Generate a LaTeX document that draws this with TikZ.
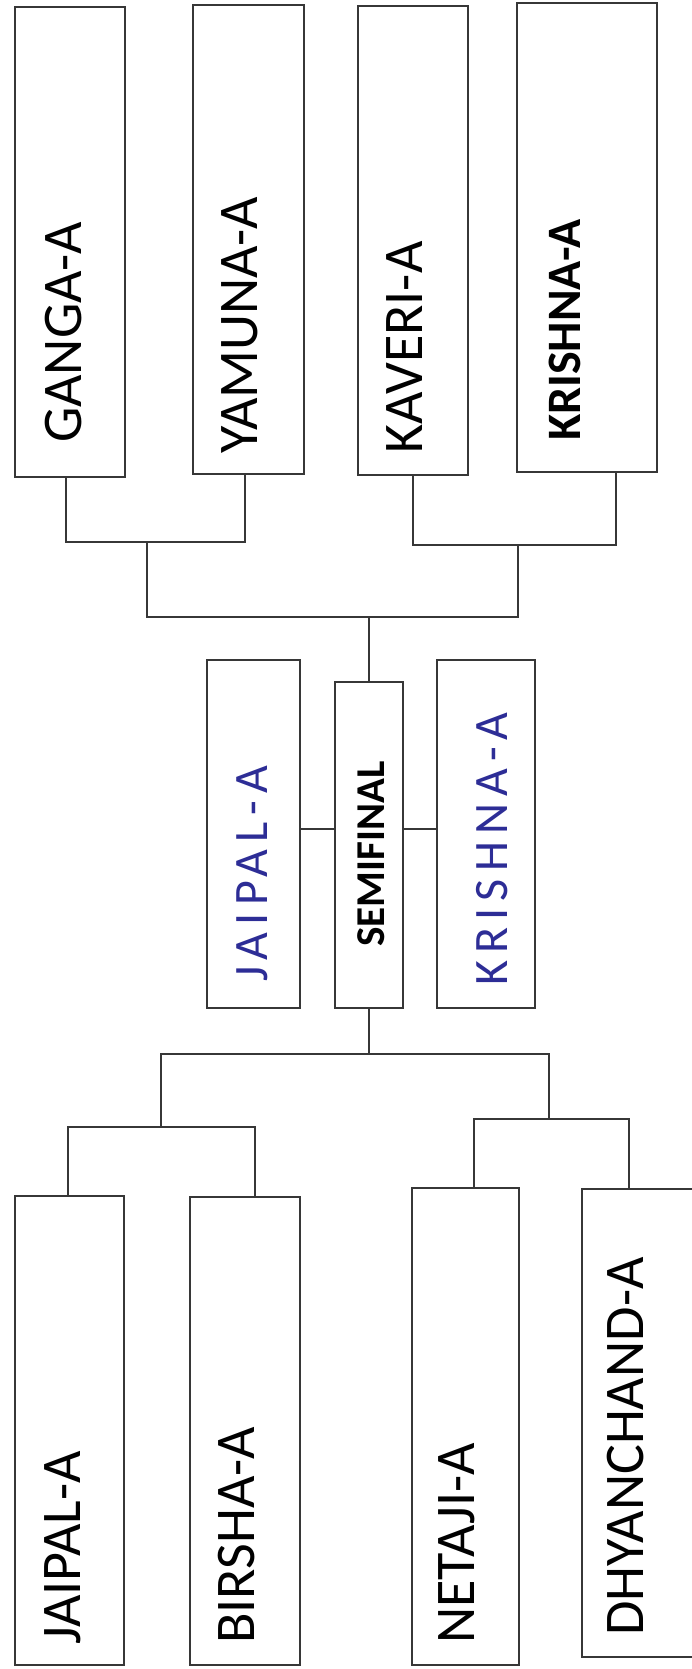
\documentclass[tikz,border=0pt]{standalone}
\usepackage{fontspec}
\setmainfont{Carlito}
\newfontfamily\handfont[LetterSpace=15]{Carlito}
\definecolor{handblue}{RGB}{45,45,150}
\definecolor{inkgray}{RGB}{55,55,55}
\tikzset{
  teambox/.style={draw=inkgray,line width=1.5pt,rectangle,inner sep=0pt},
  teamname/.style={rotate=90,anchor=base west,inner sep=0pt,
                   font=\fontsize{56}{60}\selectfont},
  boldname/.style={teamname,font=\fontsize{48}{52}\selectfont\bfseries},
  seminame/.style={teamname,font=\fontsize{41}{45}\selectfont\bfseries},
  handname/.style={teamname,text=handblue,font=\handfont\fontsize{48}{52}\selectfont},
  link/.style={draw=inkgray,line width=1.3pt}
}
\begin{document}
\begin{tikzpicture}[x=1pt,y=1pt]
  % Page frame
  \path[use as bounding box,fill=white] (0,0) rectangle (692,-1669);
  \clip (0,0) rectangle (692,-1669);
  % Top row of teams
  \node[teambox,minimum width=110pt,minimum height=470pt] (ganga) at (70,-242) {};
  \node[teambox,minimum width=111pt,minimum height=469pt] (yamuna) at (248.5,-239.5) {};
  \node[teambox,minimum width=110pt,minimum height=469pt] (kaveri) at (413,-240.5) {};
  \node[teambox,minimum width=140pt,minimum height=469pt] (krishna) at (587,-237.5) {};
  \node[teamname] (gangaT) at (81,-443) {GANGA-A};
  \node[teamname] (yamunaT) at (257,-454) {YAMUNA-A};
  \node[teamname] (kaveriT) at (422,-454) {KAVERI-A};
  \node[boldname] (krishnaT) at (580,-441) {KRISHNA-A};
  % Semifinal row
  \node[teambox,minimum width=93pt,minimum height=348pt] (jaipalH) at (253.5,-834) {};
  \node[teambox,minimum width=68pt,minimum height=326pt] (semi) at (369,-845) {};
  \node[teambox,minimum width=98pt,minimum height=348pt] (krishnaH) at (486,-834) {};
  \node[handname] (jaipalHT) at (267,-982) {JAIPAL-A};
  \node[seminame] (semiT) at (384,-947) {SEMIFINAL};
  \node[handname] (krishnaHT) at (507,-986) {KRISHNA-A};
  % Bottom row of teams
  \node[teambox,minimum width=109pt,minimum height=469pt] (jaipal) at (69.5,-1430.5) {};
  \node[teambox,minimum width=110pt,minimum height=468pt] (birsha) at (245,-1431) {};
  \node[teambox,minimum width=107pt,minimum height=477pt] (netaji) at (465.5,-1426.5) {};
  \node[teambox,minimum width=120pt,minimum height=468pt] (dhyan) at (642,-1423) {};
  \node[teamname] (jaipalT) at (80,-1645) {JAIPAL-A};
  \node[teamname] (birshaT) at (254,-1644) {BIRSHA-A};
  \node[teamname] (netajiT) at (474,-1644) {NETAJI-A};
  \node[teamname] (dhyanT) at (643,-1636) {DHYANCHAND-A};
  % Bracket joints
  \coordinate (qfL) at (147,-542);
  \coordinate (qfR) at (518,-545);
  \coordinate (sfTop) at (369,-617);
  \coordinate (finalrow) at (0,-829);
  \coordinate (sfBot) at (369,-1054);
  \coordinate (qfBL) at (161,-1127);
  \coordinate (qfBR) at (549,-1119);
  % Upper half of the draw
  \draw[link] ([xshift=-4pt]ganga.south) |- (qfL) -| ([xshift=-3.5pt]yamuna.south);
  \draw[link] (kaveri.south) |- (qfR) -| ([xshift=29pt]krishna.south);
  \draw[link] (qfL) |- (sfTop) -| (qfR);
  \draw[link] (sfTop) -- (semi.north);
  % Side boxes of the semifinal
  \draw[link] (jaipalH.east |- finalrow) -- (semi.west |- finalrow);
  \draw[link] (semi.east |- finalrow) -- (krishnaH.west |- finalrow);
  % Lower half of the draw
  \draw[link] (semi.south) -- (sfBot);
  \draw[link] (qfBL) |- (sfBot) -| (qfBR);
  \draw[link] ([xshift=-1.5pt]jaipal.north) |- (qfBL) -| ([xshift=10pt]birsha.north);
  \draw[link] ([xshift=8.5pt]netaji.north) |- (qfBR) -| ([xshift=-13pt]dhyan.north);
\end{tikzpicture}
\end{document}
